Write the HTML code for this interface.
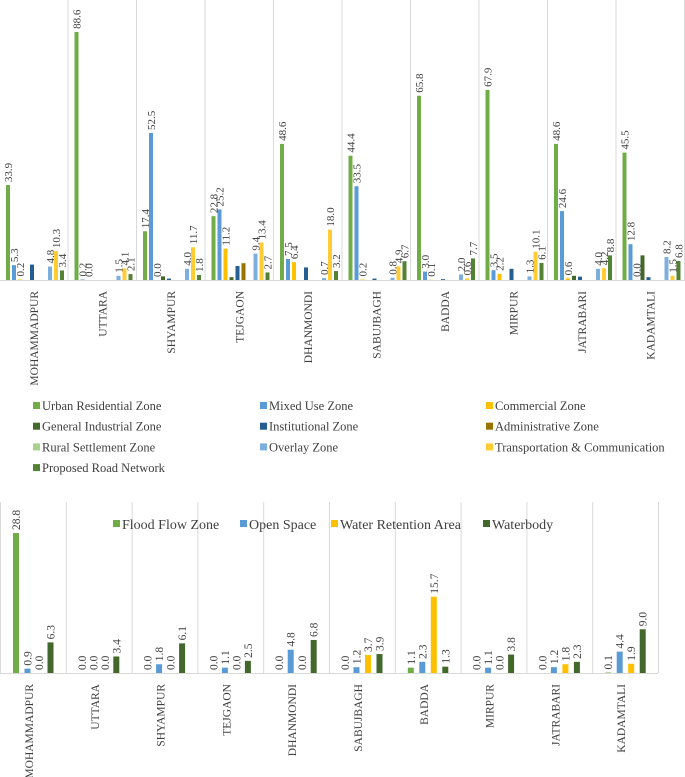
<!DOCTYPE html>
<html><head><meta charset="utf-8"><style>
body{margin:0;background:#fff;}
svg{display:block;}
svg text{font-family:"Liberation Serif","DejaVu Serif","Times New Roman",serif;}
</style></head><body>
<svg id="c" width="685" height="777"></svg>
<script>
const districts=["MOHAMMADPUR","UTTARA","SHYAMPUR","TEJGAON","DHANMONDI","SABUJBAGH","BADDA","MIRPUR","JATRABARI","KADAMTALI"];
const topSeries=["Urban Residential Zone","Mixed Use Zone","Commercial Zone","General Industrial Zone","Institutional Zone","Administrative Zone","Rural Settlement Zone","Overlay Zone","Transportation & Communication","Proposed Road Network"];
const topColors=["#70ad47","#5b9bd5","#ffc000","#43682b","#255e91","#997300","#a9d18e","#7cafdd","#ffcd33","#548235"];
const urban=[33.9,88.6,17.4,22.8,48.6,44.4,65.8,67.9,48.6,45.5];
const mixed=[5.3,0.2,52.5,25.2,7.5,33.5,3.0,3.5,24.6,12.8];
const commercial=[0.2,0.0,0.0,11.2,6.4,0.2,0.1,2.2,0.6,0.0];
const genInd=[0,0,1.3,1.0,0,0,0,0,1.5,8.8];
const institutional=[5.5,0,0.5,5.0,4.5,0.5,0.3,4.0,1.2,1.0];
const administrative=[0,0,0,6.0,0,0,0,0,0,0];
const rural=[0,0,0,0,0,0,0,0,0,0];
const overlay=[4.8,1.5,4.0,9.4,0.7,0.8,2.0,1.3,4.0,8.2];
const transport=[10.3,4.1,11.7,13.4,18.0,4.9,0.6,10.1,4.2,1.5];
const road=[3.4,2.1,1.8,2.7,3.2,6.7,7.7,6.1,8.8,6.8];
const labeledSeries=[1,1,1,0,0,0,0,1,1,1];
const botSeries=["Flood Flow Zone","Open Space","Water Retention Area","Waterbody"];
const botColors=["#70ad47","#5b9bd5","#ffc000","#43682b"];
const flood=[28.8,0,0,0,0,0,1.1,0,0,0.1];
const openSpace=[0.9,0,1.8,1.1,4.8,1.2,2.3,1.1,1.2,4.4];
const retention=[0.0,0,0,0,0,3.7,15.7,0,1.8,1.9];
const waterbody=[6.3,3.4,6.1,2.5,6.8,3.9,1.3,3.8,2.3,9.0];

const NS="http://www.w3.org/2000/svg";
const svg=document.getElementById('c');
const FF="Liberation Serif, DejaVu Serif, serif";
function mk(t,a,p){const e=document.createElementNS(NS,t);for(const k in a)e.setAttribute(k,a[k]);if(t==='text')e.setAttribute('font-family',FF);(p||svg).appendChild(e);return e;}

const topData=[urban,mixed,commercial,genInd,institutional,administrative,rural,overlay,transport,road];
const tBase=280,tScale=2.8,tGW=68.5;
const tx=(g,s)=>g*tGW+8+s*6;
const ty=v=>tBase-v*tScale;
for(let g=1;g<=10;g++){const l=mk('line',{x1:g*tGW-0.5,x2:g*tGW-0.5,y1:0,y2:tBase,stroke:'#d9d9d9'});
}
mk('line',{x1:0,x2:685,y1:tBase+0.5,y2:tBase+0.5,stroke:'#d9d9d9'});
districts.forEach((d,g)=>{
  topData.forEach((arr,s)=>{
    const v=arr[g];
    const r=mk('rect',{x:tx(g,s)-2,y:ty(v),width:4,height:v*tScale,fill:topColors[s]});
    
    if(labeledSeries[s]){const y=ty(v)-3;const t=mk('text',{x:tx(g,s)+4,y:y,transform:`rotate(-90 ${tx(g,s)+4} ${y})`,'font-size':11,fill:'#404040'});
      t.textContent=v.toFixed(1);}
  });
  const cx=g*tGW+38;
  const t=mk('text',{x:cx,y:291,transform:`rotate(-90 ${cx} 291)`,'text-anchor':'end','font-size':11.5,fill:'#404040'});
  t.textContent=d;
});
topSeries.forEach((s,i)=>{
  const col=i%3,row=Math.floor(i/3);const x=[33,260,486][col],y=406+row*20.7;
  const g=mk('g',{});
  mk('rect',{x:x,y:y-4,width:7,height:7,fill:topColors[i]},g);
  const t=mk('text',{x:x+9,y:y+4,'font-size':12.5,fill:'#404040'},g);t.textContent=s;
});

const botData=[flood,openSpace,retention,waterbody];
const bBase=673,bScale=4.86,bGW=65.8;
const bx=(g,s)=>g*bGW+16+s*11.5;
const by=v=>bBase-v*bScale;
for(let g=0;g<=10;g++){const l=mk('line',{x1:g*bGW+0.5,x2:g*bGW+0.5,y1:502,y2:bBase,stroke:'#d9d9d9'});
}
mk('line',{x1:0,x2:658,y1:bBase+0.5,y2:bBase+0.5,stroke:'#d9d9d9'});
districts.forEach((d,g)=>{
  botData.forEach((arr,s)=>{
    const v=arr[g];
    const r=mk('rect',{x:bx(g,s)-3,y:by(v),width:6,height:v*bScale,fill:botColors[s]});
    
    const y=by(v)-3;const t=mk('text',{x:bx(g,s)+4,y:y,transform:`rotate(-90 ${bx(g,s)+4} ${y})`,'font-size':11.5,fill:'#404040'});
    t.textContent=v.toFixed(1);
  });
  const cx=g*bGW+33;
  const t=mk('text',{x:cx,y:684,transform:`rotate(-90 ${cx} 684)`,'text-anchor':'end','font-size':11.5,fill:'#404040'});
  t.textContent=d;
});
const blx=[113,240,331,483];
botSeries.forEach((s,i)=>{
  const g=mk('g',{});
  mk('rect',{x:blx[i],y:520,width:7,height:7,fill:botColors[i]},g);
  const t=mk('text',{x:blx[i]+9,y:529,'font-size':14,fill:'#404040'},g);t.textContent=s;
});
</script>
</body></html>
